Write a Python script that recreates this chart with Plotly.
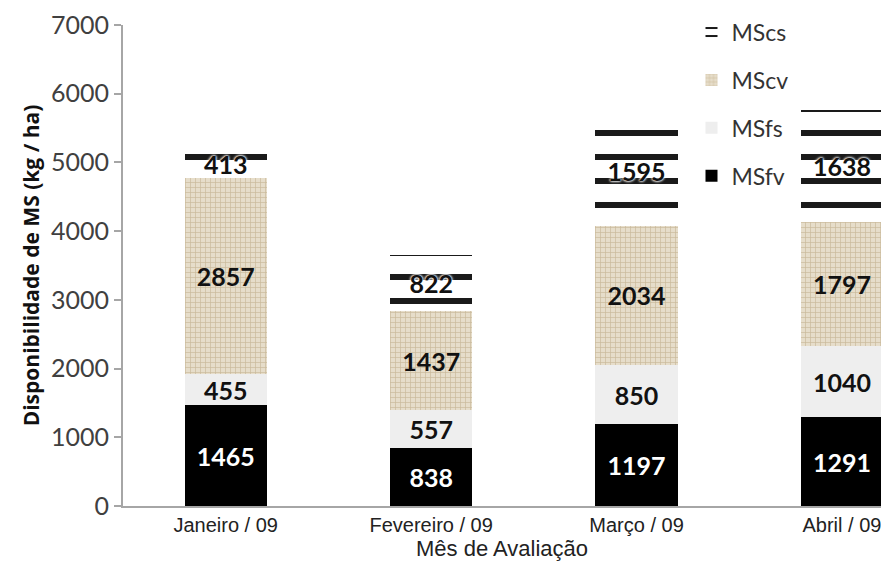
import plotly.graph_objects as go

categories = ["Janeiro / 09", "Fevereiro / 09", "Março / 09", "Abril / 09"]
msfv = [1465, 838, 1197, 1291]
msfs = [455, 557, 850, 1040]
mscv = [2857, 1437, 2034, 1797]
mscs = [413, 822, 1595, 1638]

series = [
    ("MSfv", msfv, dict(color="#000000"), "#ffffff", 4, None),
    ("MSfs", msfs, dict(color="#eeeeee"), "#111111", 3, None),
    ("MScv", mscv, dict(color="#e4dac6",
                        pattern=dict(shape="+", fgcolor="#c9b99a", bgcolor="#e6ddca",
                                     size=5, solidity=0.25, fillmode="replace")), "#111111", 2, None),
    ("MScs", mscs, dict(color="#ffffff",
                        pattern=dict(shape="-", fgcolor="#1a1a1a", bgcolor="#ffffff",
                                     size=24, solidity=0.25, fillmode="replace")), "#111111", 1,
     "0px 0px 3px #ffffff, 0px 0px 3px #ffffff, 0px 0px 2px #ffffff"),
]

fig = go.Figure()
for name, vals, marker, tcol, rank, shadow in series:
    tf = dict(family="Lato, Open Sans, sans-serif", size=25, color=tcol)
    if shadow:
        tf["shadow"] = shadow
    fig.add_trace(go.Bar(
        name=name, x=categories, y=vals, width=0.40,
        marker=dict(line=dict(width=0), **marker),
        text=vals, texttemplate="<b>%{text}</b>", textposition="inside",
        insidetextanchor="middle", constraintext="none", textangle=0,
        textfont=tf,
        legendgroup=name, legendrank=rank,
    ))

fig.update_layout(
    barmode="stack",
    width=881, height=562,
    margin=dict(l=123, r=0, t=25, b=56),
    paper_bgcolor="white", plot_bgcolor="white",
    showlegend=True,
    legend=dict(x=0.75, y=1.03, xanchor="left", yanchor="top",
                traceorder="grouped", tracegroupgap=15,
                font=dict(family="Lato, Open Sans, sans-serif", size=23, color="#333333"),
                bgcolor="rgba(0,0,0,0)"),
    uniformtext=dict(mode=False),
)
fig.update_xaxes(
    type="category", range=[-0.5, 3.19],
    showline=True, linecolor="#a6a6a6", linewidth=2,
    ticks="", showgrid=False,
    tickfont=dict(family="Liberation Sans, Arial, sans-serif", size=20, color="#222222"),
    title=dict(text="Mês de Avaliação", standoff=2,
               font=dict(family="Liberation Sans, Arial, sans-serif", size=22, color="#222222")),
)
fig.update_yaxes(
    range=[0, 7000], tickvals=[0, 1000, 2000, 3000, 4000, 5000, 6000, 7000],
    showline=True, linecolor="#a6a6a6", linewidth=2,
    ticks="outside", ticklen=7, tickcolor="#a6a6a6", tickwidth=1.5,
    showgrid=False, zeroline=False,
    tickfont=dict(family="Lato, Open Sans, sans-serif", size=25, color="#404040"),
    title=dict(text="<b>Disponibilidade de MS (kg / ha)</b>", standoff=6,
               font=dict(family="Open Sans, sans-serif", size=21, color="#111111")),
)

fig.write_html("out.html")
